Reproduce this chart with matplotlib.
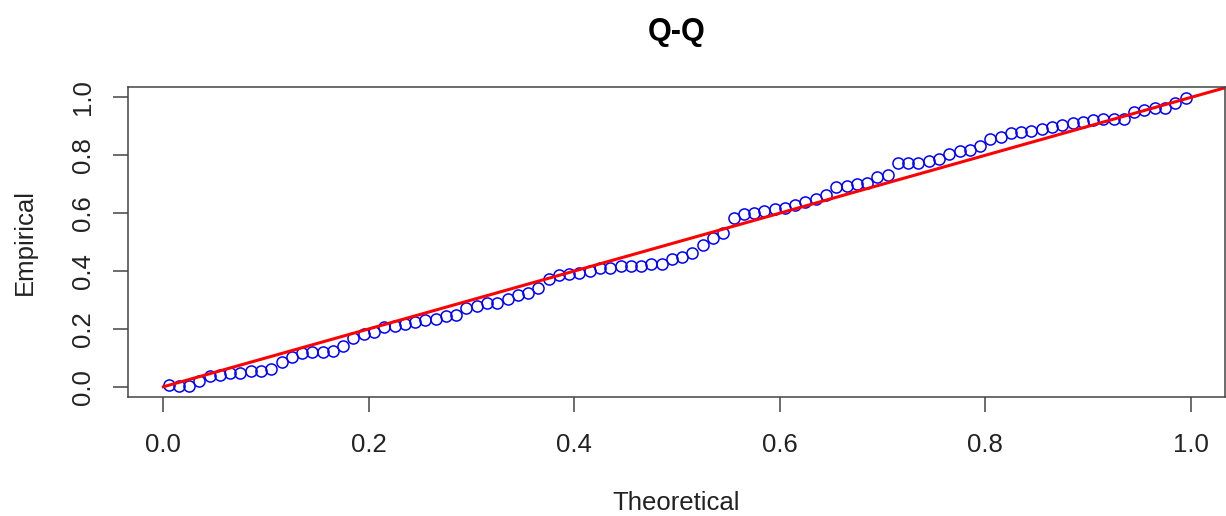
import matplotlib
matplotlib.use("Agg")
import matplotlib.pyplot as plt
import numpy as np

plt.rcParams['font.family'] = ['Liberation Sans', 'DejaVu Sans']

# sample quantiles (100 sorted values)
empirical = [
    0.006, 0.002, 0.002, 0.020, 0.037, 0.040, 0.047, 0.047, 0.054, 0.054,
    0.061, 0.086, 0.104, 0.117, 0.119, 0.119, 0.124, 0.141, 0.167, 0.182,
    0.190, 0.207, 0.211, 0.218, 0.225, 0.230, 0.233, 0.244, 0.248, 0.273,
    0.279, 0.290, 0.290, 0.302, 0.317, 0.325, 0.340, 0.372, 0.386, 0.389,
    0.394, 0.401, 0.409, 0.411, 0.417, 0.417, 0.417, 0.423, 0.426, 0.440,
    0.447, 0.461, 0.490, 0.515, 0.530, 0.585, 0.598, 0.600, 0.608, 0.616,
    0.619, 0.628, 0.639, 0.648, 0.662, 0.691, 0.693, 0.700, 0.705, 0.726,
    0.732, 0.772, 0.775, 0.775, 0.782, 0.787, 0.804, 0.815, 0.820, 0.832,
    0.858, 0.864, 0.876, 0.881, 0.885, 0.890, 0.898, 0.904, 0.912, 0.916,
    0.922, 0.927, 0.927, 0.927, 0.950, 0.956, 0.962, 0.962, 0.981, 0.997,
]
n = len(empirical)
theoretical = (np.arange(1, n + 1) - 0.5) / n

ref_line = [0.0, 1.05]
ticks = [0.0, 0.2, 0.4, 0.6, 0.8, 1.0]
tick_labels = ['0.0', '0.2', '0.4', '0.6', '0.8', '1.0']

fig = plt.figure(figsize=(12.26, 5.16), dpi=100)
ax = fig.add_axes([0.1042, 0.2297, 0.8950, 0.6011])

ax.plot(theoretical, empirical, linestyle='none', marker='o', markersize=8,
        markerfacecolor='none', markeredgecolor='#0000ff', markeredgewidth=1.1)
ax.plot(ref_line, ref_line, color='#ff0000', linewidth=2.2)

ax.set_xlim(-0.0347, 1.0334)
ax.set_ylim(-0.037, 1.035)
ax.set_xticks(ticks)
ax.set_xticklabels(tick_labels)
ax.set_yticks(ticks)
ax.set_yticklabels(tick_labels, rotation=90, va='center')

for s in ax.spines.values():
    s.set_color('#444444')
    s.set_linewidth(1.1)
ax.tick_params(axis='both', length=10.8, width=1.1, color='#444444',
               labelsize=18.5, labelcolor='#222222')
ax.tick_params(axis='x', pad=15)
ax.tick_params(axis='y', pad=13)

ax.set_xlabel('Theoretical', fontsize=18.5, color='#222222', labelpad=24)
ax.set_ylabel('Empirical', fontsize=18.5, color='#222222', labelpad=24)
ax.set_title('Q-Q', fontsize=22, fontweight='bold', pad=34)

fig.savefig('out.png', dpi=100)
